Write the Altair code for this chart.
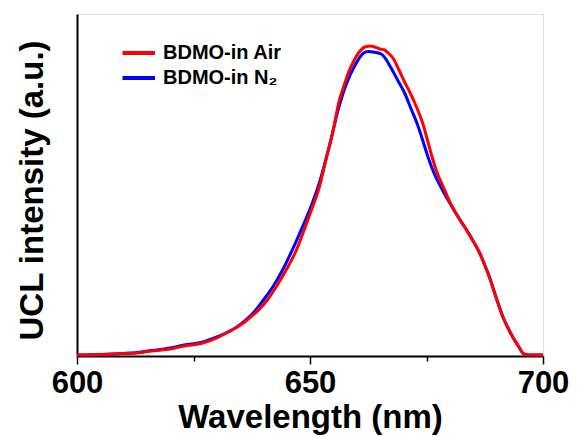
import altair as alt
import pandas as pd

# ---- data ----
air_wl = [600, 605, 610, 613, 616, 620, 623, 627, 630, 632, 634, 636, 637, 639, 641, 643, 645, 647, 648.5, 650,
          652, 653.5, 655, 656.2, 657.2, 658.3, 659.4, 660.4, 661.8, 663, 663.9, 665, 666, 667, 667.8, 669, 670.3,
          671.4, 672.4, 673.3, 674.1, 675.2, 676.2, 677.3, 678.7, 680.1, 681.8, 683.6, 685, 686.4, 687.5, 688.5,
          689.9, 691.4, 692.5, 693.5, 694.7, 695.9, 697, 700]
air_int = [0, 0.5, 1.5, 2, 4, 6, 9, 12, 17, 22, 27, 33, 37, 45, 56, 70, 86, 104, 122, 141,
           168, 197, 225, 253, 268, 283, 294, 302, 308, 309, 308, 306, 305, 301, 297, 286, 273,
           263, 253, 243, 233, 215, 198, 182, 167, 152, 138, 125, 114, 102, 90, 78,
           58, 38, 27, 18, 9, 1, 0, 0]

n2_wl = [600, 605, 610, 613, 616, 620, 623, 627, 630, 632, 634, 636, 638, 640, 642, 644, 646, 648, 650, 652,
         654, 656.2, 657.8, 659.7, 661.5, 662.5, 663.6, 665.3, 666.4, 667.4, 668.8, 670.3, 671.7, 673.1, 674.3,
         675.4, 676.6, 678.2, 680, 681.8, 683.6, 685, 686.4, 687.5, 688.5, 689.9, 691.4, 692.5, 693.5, 694.7,
         695.9, 697, 700]
n2_int = [0, 0.5, 1.5, 2.5, 4.5, 7, 10, 13, 18, 22, 27, 34, 43, 55, 68, 84, 103, 124, 146, 172,
          206, 248, 271, 290, 302, 303.5, 303, 301, 295, 287, 275, 262, 246, 230, 213,
          197, 182, 167, 152, 138, 125, 114, 102, 90, 78, 58, 38, 27, 18, 9,
          1, 0, 0]

series = ["BDMO-in Air", "BDMO-in N\u2082"]
colors = ["#ff0000", "#0000ff"]
x_major = [600, 650, 700]
x_minor = [625, 675]

air = pd.DataFrame({"wl": air_wl, "I": air_int, "s": series[0]})
n2 = pd.DataFrame({"wl": n2_wl, "I": n2_int, "s": series[1]})

FONT = "Liberation Sans"

xscale = alt.Scale(domain=[600, 700], nice=False, zero=False)
yscale = alt.Scale(domain=[-1, 341], nice=False)

yaxis = alt.Axis(title="UCL intensity (a.u.)", labels=False, ticks=False, grid=False,
                 domainColor="black", domainWidth=2,
                 titleFont=FONT, titleFontSize=33, titleFontWeight="bold", titleColor="black",
                 titleAngle=270, titleX=-35, titleY=176, titleBaseline="alphabetic", titleAlign="center")

major_axis = alt.Axis(title="Wavelength (nm)", orient="bottom", values=x_major, format="d", grid=False,
                      domainColor="black", domainWidth=2, tickColor="black", tickWidth=1.5, tickSize=8,
                      labelFont=FONT, labelFontSize=31, labelFontWeight="bold", labelColor="black",
                      labelPadding=4, labelFlush=False, labelOverlap=False,
                      titleFont=FONT, titleFontSize=33, titleFontWeight="bold", titleColor="black",
                      titleY=71, titleBaseline="alphabetic")

minor_axis = alt.Axis(title="", orient="bottom", values=x_minor, labels=False, grid=False, domain=False,
                      tickColor="black", tickWidth=1.5, tickSize=5)

legend = alt.Legend(title=None, orient="none", legendX=42, legendY=29,
                    symbolType="M -1 0 H 4", symbolSize=169, symbolStrokeWidth=4,
                    labelFont=FONT, labelFontSize=20, labelFontWeight="bold", labelColor="black",
                    labelOffset=24, rowPadding=5, padding=0)

color = alt.Color("s:N", scale=alt.Scale(domain=series, range=colors), legend=legend)

blue = alt.Chart(n2).mark_line(strokeWidth=3, interpolate="monotone").encode(
    x=alt.X("wl:Q", scale=xscale, axis=major_axis),
    y=alt.Y("I:Q", scale=yscale, axis=yaxis),
    color=color,
)
red = alt.Chart(air).mark_line(strokeWidth=3, interpolate="monotone").encode(
    x=alt.X("wl:Q", scale=xscale, axis=minor_axis),
    y=alt.Y("I:Q", scale=yscale, axis=yaxis),
    color=color,
)

chart = alt.layer(blue, red).resolve_axis(x="independent").properties(
    width=466, height=342,
    autosize=alt.AutoSizeParams(type="none"),
    padding={"left": 69, "top": 6, "right": 27, "bottom": 81},
).configure_view(stroke="black", strokeWidth=2).configure(background="white")

chart.save("out.html", embed_options={"renderer": "svg", "actions": False})
